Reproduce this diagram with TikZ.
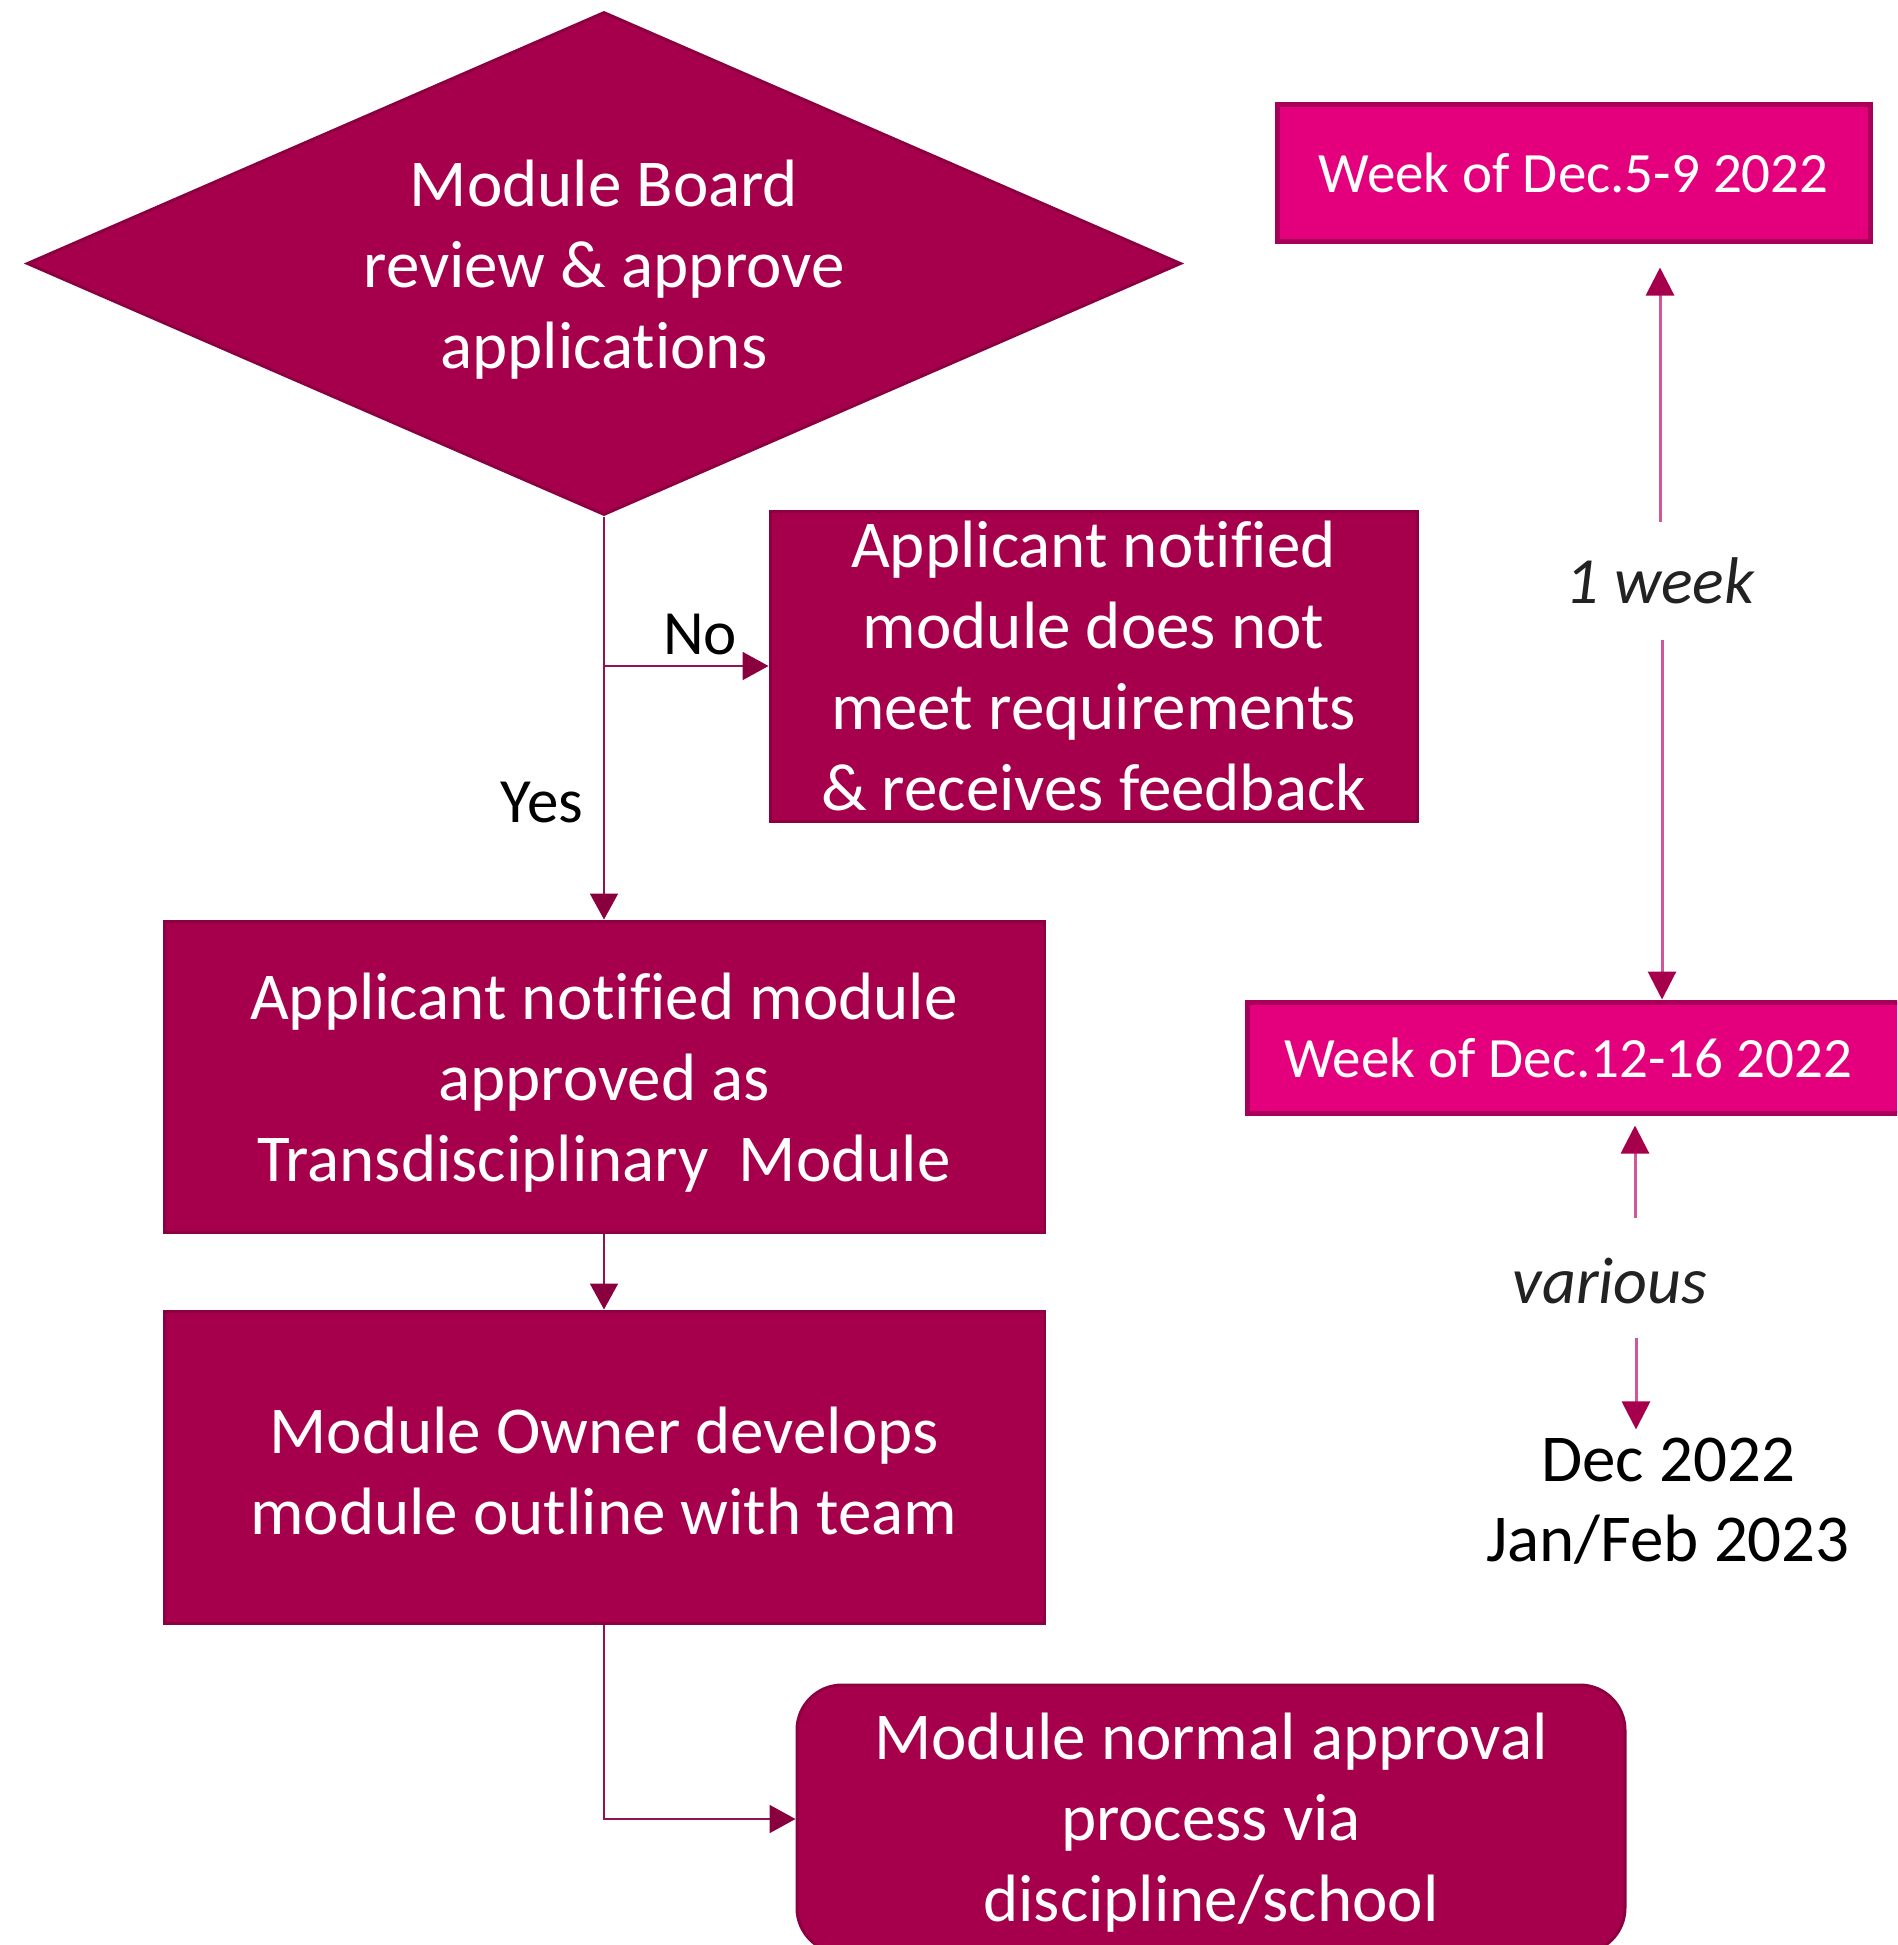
\documentclass[tikz,border=0pt]{standalone}
\usepackage{fontspec}
\setmainfont{Carlito}[Ligatures=NoCommon]
\usetikzlibrary{shapes.geometric,arrows.meta}
\definecolor{maroon}{HTML}{A6004C}
\definecolor{maroonedge}{HTML}{8C0042}
\definecolor{magbox}{HTML}{E4007C}
\definecolor{magedge}{HTML}{A8005A}
\definecolor{pinkline}{HTML}{D4569A}
\definecolor{connline}{HTML}{901352}
\definecolor{tipcol}{HTML}{8A003F}
\definecolor{italgray}{HTML}{222222}
\newcommand\pushdown[1]{\rule{0pt}{\dimexpr\fontcharht\font`l+#1\relax}}
\begin{document}
\begin{tikzpicture}[x=0.5pt,y=-0.5pt,
  mainfont/.style={font=\fontsize{33.5}{40.5}\selectfont},
  boxstyle/.style={draw=maroonedge, line width=1.5pt, fill=maroon, text=white,
    align=center, inner sep=0pt, mainfont},
  weekbox/.style={draw=magedge, line width=2.5pt, fill=magbox, text=white,
    align=center, inner sep=0pt, font=\fontsize{28.5}{34}\selectfont},
  conn/.style={draw=connline, line width=1pt,
    -{Triangle[length=13pt,width=14pt,color=tipcol]}},
  timeline/.style={draw=pinkline, line width=1.5pt,
    -{Triangle[length=14pt,width=14pt,color=maroon]}},
  lbl/.style={text=black, inner sep=0pt, font=\fontsize{31.5}{38}\selectfont},
  ital/.style={text=italgray, inner sep=0pt, font=\fontsize{33}{40}\selectfont\itshape}
]
\useasboundingbox (0,0) rectangle (1897,1945);
\fill[white] (0,0) rectangle (1897,1945);
\clip (0,0) rectangle (1897,1945);

% decision diamond
\node[boxstyle, shape=diamond, aspect=2.294, minimum width=577pt, minimum height=251.5pt]
  (dia) at (604,263.5) {\pushdown{6pt}Module Board\\review \& approve\\applications};

% boxes
\node[boxstyle, minimum width=323.5pt, minimum height=155pt]
  (nobox) at (1093.5,666) {Applicant notified\\module does not\\meet requirements\\\& receives feedback};
\node[boxstyle, minimum width=440pt, minimum height=155.5pt]
  (appr) at (604,1076.5) {\pushdown{6pt}Applicant notified module\\approved as\\Transdisciplinary\ \ Module};
\node[boxstyle, minimum width=440pt, minimum height=156pt]
  (owner) at (604,1467) {\pushdown{4pt}Module Owner develops\\module outline with team};
\node[boxstyle, rounded corners=22.5pt, minimum width=414pt, minimum height=134pt]
  (normal) at (1211,1819) {\pushdown{4pt}Module normal approval\\process via\\discipline/school};

% week boxes
\node[weekbox, minimum width=296.5pt, minimum height=68.5pt]
  (w1) at (1573.5,172.5) {Week of Dec.5-9 2022};
\node[weekbox, minimum width=340pt, minimum height=55.5pt]
  (w2) at (1587,1057.5) {Week of Dec.12-16 2022\hspace*{19pt}};

% labels
\node[lbl] (no) at (700,634) {No};
\node[lbl] (yes) at (542,803) {Yes};
\node[ital, minimum height=59pt] (oneweek) at (1660,581) {1 week};
\node[ital] (various) at (1610,1281) {various};
\node[text=black, inner sep=0pt, align=center, font=\fontsize{33.5}{40}\selectfont]
  (dates) at (1668,1501) {Dec 2022\\Jan/Feb 2023};
\coordinate (vtop) at (1635,1218);
\coordinate (vbot) at (1636,1338);

% flow connectors
\draw[conn] (dia.south) -- (appr.north);
\draw[conn] (nobox.west -| dia.south) -- (nobox.west);
\draw[conn] (appr.south) -- (owner.north);
\draw[conn] (owner.south) |- (normal.west);

% timeline arrows
\draw[timeline, shorten >=12pt] (oneweek.north) -- (oneweek.north |- w1.south);
\draw[timeline] ([xshift=1pt]oneweek.south) -- ([xshift=1pt]oneweek.south |- w2.north);
\draw[timeline, shorten >=5pt] (vtop) -- (vtop |- w2.south);
\draw[timeline, shorten >=4pt] (vbot) -- (vbot |- dates.north);
\end{tikzpicture}
\end{document}
